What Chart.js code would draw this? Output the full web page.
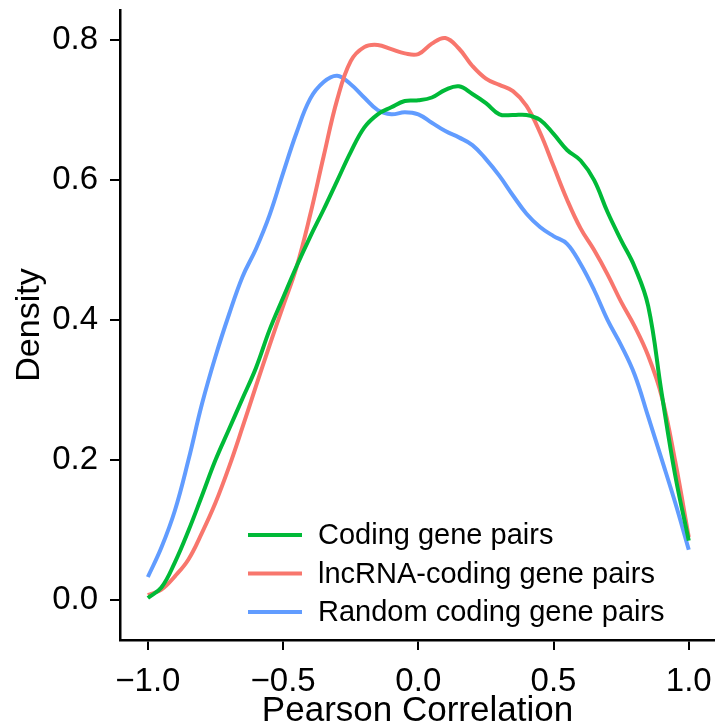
<!DOCTYPE html>
<html>
<head>
<meta charset="utf-8">
<script src="https://cdn.jsdelivr.net/npm/chart.js@4/dist/chart.umd.min.js"></script>
<style>
  html, body { margin: 0; padding: 0; background: #fff; }
  #wrap { width: 715px; height: 727px; }
</style>
</head>
<body>
<div id="wrap"><canvas id="densityChart" width="715" height="727"></canvas></div>
<script>
const xs = [-1.00, -0.95, -0.90, -0.85, -0.80, -0.75, -0.70, -0.65, -0.60, -0.55,
  -0.50, -0.45, -0.40, -0.35, -0.30, -0.25, -0.20, -0.15, -0.10, -0.05,
  0.00, 0.05, 0.10, 0.15, 0.20, 0.25, 0.30, 0.35, 0.40, 0.45,
  0.50, 0.55, 0.60, 0.65, 0.70, 0.75, 0.80, 0.85, 0.90, 0.95, 1.00];

const codingPairs = [0.003, 0.018, 0.054, 0.099, 0.149, 0.200, 0.244, 0.288, 0.332, 0.386,
  0.432, 0.477, 0.519, 0.558, 0.599, 0.640, 0.675, 0.694, 0.704, 0.713,
  0.714, 0.718, 0.729, 0.734, 0.723, 0.710, 0.694, 0.693, 0.693, 0.686,
  0.666, 0.643, 0.628, 0.600, 0.554, 0.514, 0.476, 0.420, 0.295, 0.178, 0.085];

const lncPairs = [0.007, 0.015, 0.034, 0.058, 0.096, 0.139, 0.190, 0.247, 0.306, 0.364,
  0.420, 0.476, 0.550, 0.634, 0.715, 0.770, 0.790, 0.793, 0.787, 0.781,
  0.780, 0.795, 0.803, 0.788, 0.763, 0.745, 0.736, 0.727, 0.706, 0.668,
  0.620, 0.572, 0.531, 0.500, 0.465, 0.426, 0.391, 0.349, 0.291, 0.198, 0.090];

const randomPairs = [0.033, 0.075, 0.128, 0.200, 0.280, 0.348, 0.408, 0.462, 0.502, 0.550,
  0.610, 0.668, 0.716, 0.740, 0.749, 0.737, 0.718, 0.700, 0.694, 0.697,
  0.694, 0.682, 0.670, 0.661, 0.650, 0.630, 0.606, 0.578, 0.552, 0.533,
  0.520, 0.509, 0.480, 0.443, 0.400, 0.364, 0.322, 0.262, 0.201, 0.139, 0.072];

const seriesNames = ["Coding gene pairs", "lncRNA-coding gene pairs", "Random coding gene pairs"];
const seriesColors = ["#00BA38", "#F8766D", "#619CFF"];

const xTicks = [-1.0, -0.5, 0.0, 0.5, 1.0];
const yTicks = [0.0, 0.2, 0.4, 0.6, 0.8];

const FONT = "'Liberation Sans', Arial, Helvetica, sans-serif";

function toPoints(values) {
  return values.map((v, i) => ({ x: xs[i], y: v }));
}

function fmtTick(v) {
  const s = Math.abs(v).toFixed(1);
  return v < 0 ? "\u2212" + s : s;
}

// legend drawn inside the panel, like the original
const insideLegend = {
  id: "insideLegend",
  afterDraw(chart) {
    const ctx = chart.ctx;
    ctx.save();
    ctx.font = "29px " + FONT;
    ctx.textBaseline = "middle";
    ctx.fillStyle = "#000";
    chart.data.datasets.forEach((ds, i) => {
      const y = 535 + i * 38.5;
      ctx.strokeStyle = ds.borderColor;
      ctx.lineWidth = 4;
      ctx.beginPath();
      ctx.moveTo(248, y);
      ctx.lineTo(302, y);
      ctx.stroke();
      ctx.fillText(ds.label, 318, y + 1);
    });
    ctx.restore();
  }
};

const ctx = document.getElementById("densityChart");

new Chart(ctx, {
  type: "line",
  data: {
    datasets: [codingPairs, lncPairs, randomPairs].map((vals, i) => ({
      label: seriesNames[i],
      data: toPoints(vals),
      borderColor: seriesColors[i],
      borderWidth: 4,
      pointRadius: 0,
      tension: 0.4,
      fill: false
    }))
  },
  options: {
    responsive: false,
    animation: false,
    devicePixelRatio: 1,
    layout: { padding: { top: 10, right: 0, left: 0, bottom: 0 } },
    plugins: {
      legend: { display: false },
      tooltip: { enabled: false }
    },
    scales: {
      x: {
        type: "linear",
        min: -1.103,
        max: 1.097,
        afterBuildTicks: (scale) => { scale.ticks = xTicks.map((v) => ({ value: v })); },
        afterFit: (scale) => {
          scale.height = 87;
          scale.paddingLeft = 0;
          scale.paddingRight = 0;
        },
        grid: { drawOnChartArea: false, drawTicks: true, tickLength: 10, color: "#000", lineWidth: 2 },
        border: { display: true, color: "#000", width: 2.5 },
        ticks: {
          color: "#000",
          font: { family: FONT, size: 33 },
          padding: 12,
          maxRotation: 0,
          callback: (v) => fmtTick(v)
        },
        title: {
          display: true,
          text: "Pearson Correlation",
          color: "#000",
          font: { family: FONT, size: 35, lineHeight: 0.9 },
          padding: { top: 0, bottom: 0 }
        }
      },
      y: {
        type: "linear",
        min: -0.057,
        max: 0.843,
        afterBuildTicks: (scale) => { scale.ticks = yTicks.map((v) => ({ value: v })); },
        afterFit: (scale) => {
          scale.width = 120;
          scale.paddingTop = 0;
          scale.paddingBottom = 0;
        },
        grid: { drawOnChartArea: false, drawTicks: true, tickLength: 10, color: "#000", lineWidth: 2 },
        border: { display: true, color: "#000", width: 2.5 },
        ticks: {
          color: "#000",
          font: { family: FONT, size: 33 },
          padding: 12,
          callback: (v) => fmtTick(v)
        },
        title: {
          display: true,
          text: "Density",
          color: "#000",
          font: { family: FONT, size: 34, lineHeight: 1.0 },
          padding: { top: 13, bottom: 0 }
        }
      }
    }
  },
  plugins: [insideLegend]
});
</script>
</body>
</html>
